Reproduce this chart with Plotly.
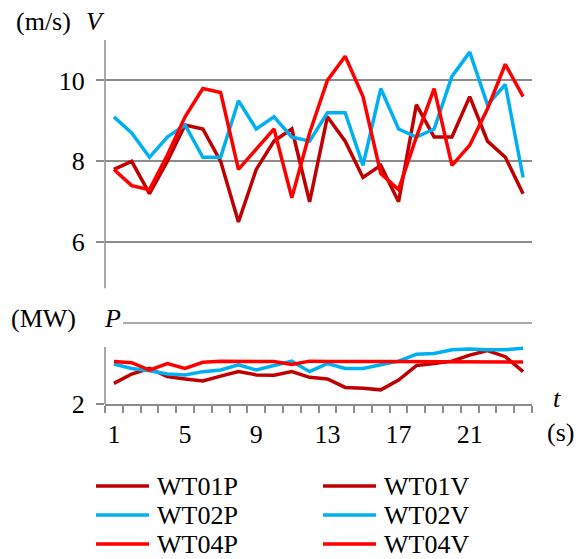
import plotly.graph_objects as go

t = list(range(1, 25))
x_ticks = [1, 5, 9, 13, 17, 21]
y_ticks = [2, 6, 8, 10]

wt01v = [7.8, 8.0, 7.2, 8.0, 8.9, 8.8, 8.0, 6.5, 7.8, 8.5, 8.8, 7.0, 9.1, 8.5, 7.6, 7.9, 7.0, 9.4, 8.6, 8.6, 9.6, 8.5, 8.1, 7.2]
wt02v = [9.1, 8.7, 8.1, 8.6, 8.9, 8.1, 8.1, 9.5, 8.8, 9.1, 8.6, 8.5, 9.2, 9.2, 7.9, 9.8, 8.8, 8.6, 8.8, 10.1, 10.7, 9.4, 9.9, 7.6]
wt04v = [7.8, 7.4, 7.3, 8.15, 9.1, 9.8, 9.7, 7.8, 8.3, 8.8, 7.1, 8.7, 10.0, 10.6, 9.6, 7.7, 7.3, 8.6, 9.8, 7.9, 8.4, 9.3, 10.4, 9.6]

wt01p = [2.51, 2.74, 2.88, 2.68, 2.62, 2.57, 2.69, 2.8, 2.72, 2.71, 2.8, 2.66, 2.62, 2.41, 2.39, 2.35, 2.59, 2.95, 3.0, 3.06, 3.21, 3.32, 3.17, 2.8]
wt02p = [2.99, 2.88, 2.82, 2.74, 2.72, 2.8, 2.84, 2.97, 2.84, 2.94, 3.06, 2.8, 3.0, 2.88, 2.88, 2.97, 3.06, 3.23, 3.25, 3.34, 3.36, 3.34, 3.34, 3.38]
wt04p = [3.05, 3.02, 2.84, 3.0, 2.88, 3.03, 3.06, 3.06, 3.05, 3.05, 2.98, 3.06, 3.05, 3.04, 3.05, 3.05, 3.05, 3.05, 3.06, 3.05, 3.05, 3.05, 3.04, 3.04]

DARK = "#C00000"
CYAN = "#00B0F0"
RED = "#FF0000"
GRID = "#8C8C8C"
FONT = "Liberation Serif, Times New Roman, Times, serif"
FS = 26

L, R, T, B = 105, 532, 40, 404
W, H = R - L, B - T

def xp(px):
    return (px - L) / W

def yp(py):
    return (B - py) / H

series = [
    ("WT01P", wt01p, DARK),
    ("WT01V", wt01v, DARK),
    ("WT02P", wt02p, CYAN),
    ("WT02V", wt02v, CYAN),
    ("WT04P", wt04p, RED),
    ("WT04V", wt04v, RED),
]

fig = go.Figure()
for name, vals, col in series:
    fig.add_trace(go.Scatter(x=t, y=vals, mode="lines", name=name,
                             line=dict(color=col, width=3.5), showlegend=False))

shapes = []
for y0, y1 in [(2, 3.41), (4.86, 11)]:
    shapes.append(dict(type="line", xref="paper", yref="y", x0=0, x1=0, y0=y0, y1=y1,
                       line=dict(color=GRID, width=1.5)))
shapes.append(dict(type="line", xref="paper", yref="y", x0=xp(123), x1=1, y0=4, y1=4,
                   line=dict(color=GRID, width=1.5)))

annotations = []
def txt(s, px, py, xanchor="center", size=FS):
    annotations.append(dict(text=s, x=xp(px), y=yp(py), xref="paper", yref="paper",
                            xanchor=xanchor, yanchor="middle", showarrow=False,
                            font=dict(family=FONT, size=size, color="black")))

txt("(m/s)", 43, 22)
txt("<i>V</i>", 95, 22)
txt("(MW)", 43, 318)
txt("<i>P</i>", 112, 318)
txt("<i>t</i>", 557, 398)
txt("(s)", 560, 432)

rows = [486, 515, 544]
cols = [(96, 149, 155), (323, 376, 382)]
for i, (name, vals, col) in enumerate(series):
    r, c = divmod(i, 2)
    x0, x1, xt = cols[c]
    py = rows[r]
    shapes.append(dict(type="line", xref="paper", yref="paper", x0=xp(x0), x1=xp(x1),
                       y0=yp(py), y1=yp(py), line=dict(color=col, width=3.5)))
    txt(name, xt, py, xanchor="left")

fig.update_layout(
    width=585, height=559,
    margin=dict(l=L, r=585 - R, t=T, b=559 - B),
    paper_bgcolor="white", plot_bgcolor="white",
    font=dict(family=FONT, size=FS, color="black"),
    showlegend=False,
    shapes=shapes,
    annotations=annotations,
    xaxis=dict(range=[0.5, 24.5], tickmode="array", tickvals=x_ticks,
               ticktext=[str(v) for v in x_ticks],
               ticks="", showgrid=False, zeroline=False,
               showline=True, linecolor=GRID, linewidth=1.5,
               ticklabelstandoff=6,
               minor=dict(tickmode="array", tickvals=[v + 0.5 for v in range(0, 25)],
                          ticks="outside", ticklen=7, tickcolor=GRID, tickwidth=1.5,
                          showgrid=False),
               tickfont=dict(family=FONT, size=FS, color="black")),
    yaxis=dict(range=[2, 11], tickmode="array", tickvals=y_ticks,
               ticktext=[str(v) for v in y_ticks],
               ticks="outside", ticklen=8, tickcolor=GRID, tickwidth=1.5,
               showgrid=True, gridcolor=GRID, gridwidth=1.5, zeroline=False,
               showline=False, ticklabelstandoff=6,
               tickfont=dict(family=FONT, size=FS, color="black")),
)

fig.write_html("out.html", config={"displayModeBar": False},
               post_script="document.body.style.margin='0';")
